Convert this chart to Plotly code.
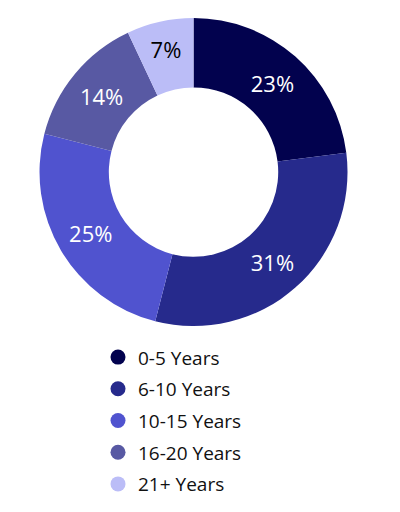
import plotly.graph_objects as go

# Data
labels = ['0-5 Years', '6-10 Years', '10-15 Years', '16-20 Years', '21+ Years']
shares = [23, 31, 25, 14, 7]
colors = ['#02024e', '#262a8c', '#5053cf', '#5859a3', '#bbbdf7']
text_colors = ['white', 'white', 'white', 'white', 'black']

font_family = 'Open Sans, Noto Sans, sans-serif'

fig = go.Figure()

fig.add_trace(go.Pie(
    labels=labels,
    values=shares,
    hole=0.55,
    sort=False,
    direction='clockwise',
    rotation=0,
    marker=dict(colors=colors, line=dict(width=0)),
    textinfo='percent',
    textposition='inside',
    insidetextorientation='horizontal',
    textfont=dict(family=font_family, size=22, color=text_colors),
    showlegend=False,
    domain=dict(x=[0.0788, 0.8488], y=[0.3787, 0.9803]),
))

# legend entries with round markers
for lab, col in zip(labels, colors):
    fig.add_trace(go.Scatter(
        x=[None], y=[None], mode='markers', name=lab, legendgroup=lab,
        marker=dict(symbol='circle', size=15, color=col),
    ))

fig.update_layout(
    width=400, height=512,
    margin=dict(l=0, r=0, t=0, b=0),
    paper_bgcolor='white',
    plot_bgcolor='white',
    xaxis=dict(visible=False),
    yaxis=dict(visible=False),
    legend=dict(
        x=0.225, y=0.355, xanchor='left', yanchor='top',
        font=dict(family=font_family, size=19, color='#111111'),
        tracegroupgap=4,
        itemsizing='trace',
        bgcolor='rgba(0,0,0,0)',
    ),
)

fig.write_html("out.html")
